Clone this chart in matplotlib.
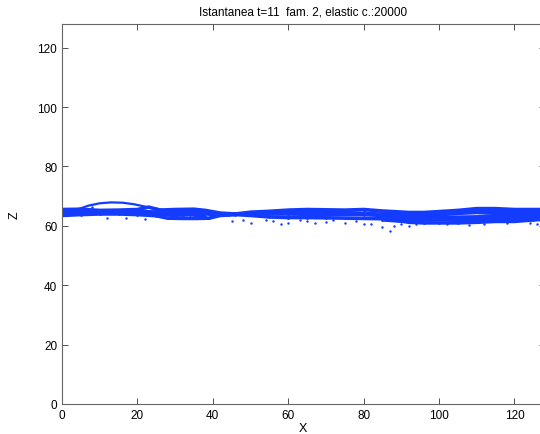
import numpy as np
import matplotlib
matplotlib.use('Agg')
from matplotlib import pyplot as plt

plt.rcParams['font.family'] = ['Liberation Sans', 'DejaVu Sans']

title = 'Istantanea t=11  fam. 2, elastic c.:20000'

# strands of particles (X, Z)
upper_x = [0, 5, 10, 15, 20, 23, 26, 30, 35, 38, 42, 46, 50, 55, 60, 65, 70, 75,
           80, 85, 88, 92, 96, 100, 105, 110, 115, 120, 128]
upper_z = [65.5, 65.6, 65.2, 65.3, 65.5, 66.3, 65.3, 65.5, 65.6, 65.2, 64.3, 64.0,
           64.6, 64.9, 65.3, 65.5, 65.4, 65.3, 65.5, 65.0, 64.8, 64.5, 64.5, 64.8,
           65.2, 65.8, 65.8, 65.5, 65.5]

lower_x = [0, 5, 10, 15, 20, 25, 28, 32, 36, 39, 42, 46, 50, 55, 60, 65, 70, 75,
           80, 85, 88, 92, 96, 100, 105, 110, 115, 120, 125, 128]
lower_z = [63.5, 63.8, 64.0, 64.0, 63.8, 63.4, 62.6, 62.5, 62.5, 62.6, 63.5, 63.8,
           63.5, 63.0, 62.8, 62.8, 62.7, 62.6, 62.5, 62.4, 62.0, 61.2, 61.0, 61.0,
           61.0, 61.2, 61.5, 61.5, 62.0, 62.2]

arch_x = [4, 7, 10, 13, 16, 19, 22, 25, 28]
arch_z = [65.5, 66.8, 67.6, 67.9, 67.8, 67.3, 66.5, 65.8, 65.2]

mid_x = [0, 10, 20, 30, 35, 40, 50, 60, 70, 80, 90, 100, 110, 120, 128]
mid_z = [64.5, 64.7, 64.5, 63.5, 64.5, 63.8, 64.0, 64.0, 63.8, 63.8, 63.2, 62.5,
         63.0, 63.5, 63.8]

mid2_x = [0, 8, 16, 24, 30, 36, 44, 52, 60, 68, 76, 84, 92, 100, 108, 116, 124, 128]
mid2_z = [65.0, 65.0, 64.9, 64.7, 64.6, 64.8, 63.8, 64.2, 64.6, 64.6, 64.4, 64.0,
          63.8, 64.2, 64.8, 64.8, 64.6, 64.7]

right_up_x = [80, 85, 90, 95, 100, 105, 110, 115, 120, 128]
right_up_z = [64.3, 63.5, 63.0, 63.5, 63.8, 64.2, 64.5, 64.2, 63.8, 64.0]

right_lo_x = [85, 90, 95, 100, 105, 110, 115, 120, 128]
right_lo_z = [62.0, 61.6, 62.0, 62.2, 62.0, 61.8, 62.3, 62.5, 62.8]

right_lo2_x = [86, 90, 95, 100, 105, 110, 115, 120, 128]
right_lo2_z = [62.8, 62.5, 62.8, 63.0, 62.9, 62.9, 63.0, 63.2, 63.2]

block_x = [28, 30, 32, 34, 36, 38]
block_z = [64.0, 63.8, 63.6, 63.8, 63.5, 63.2]

strands = [(upper_x, upper_z), (lower_x, lower_z),
           (mid_x, mid_z), (mid2_x, mid2_z), (right_up_x, right_up_z),
           (right_lo_x, right_lo_z), (right_lo2_x, right_lo2_z),
           (block_x, block_z)]

# loose particles below the band
loose_x = [3, 8, 12, 17, 22, 45, 48, 50, 54, 58, 60, 63, 65, 70, 72, 75, 78, 80,
           82, 85, 87, 88, 90, 94, 98, 102, 108, 112, 118, 124, 126, 56, 67, 92, 104]
loose_z = [64.8, 66.5, 62.5, 62.8, 62.3, 61.5, 62.0, 61.0, 62.0, 60.5, 60.8, 61.9,
           61.5, 61.2, 62.0, 60.8, 61.5, 60.6, 60.5, 59.5, 58.4, 60.0, 60.5, 60.5,
           61.8, 60.6, 60.4, 60.7, 60.8, 61.0, 60.5, 61.6, 60.9, 60.0, 61.2]

col = '#143cff'

fig = plt.figure(figsize=(5.4, 4.35), dpi=100)
ax = fig.add_axes([0.1148, 0.069, 0.8937, 0.8736])

for sx, sz in strands:
    ax.plot(sx, sz, color=col, lw=2.6, solid_capstyle='butt')
    ax.plot(sx, sz, '.', color=col, ms=2)
ax.plot(arch_x, arch_z, color=col, lw=1.6)
ax.plot(loose_x, loose_z, '.', color=col, ms=1.5, ls='none')

ax.set_xlim(0, 128)
ax.set_ylim(0, 128)
ax.set_xticks(np.arange(0, 121, 20))
ax.set_yticks(np.arange(0, 121, 20))
ax.tick_params(direction='in', length=4, width=0.6, labelsize=8.5,
               top=True, right=True, colors='#333333', labelcolor='black')
for sp in ax.spines.values():
    sp.set_color('#666666')
    sp.set_linewidth(0.8)

ax.set_title(title, fontsize=8.5, pad=7)
ax.set_xlabel('X', fontsize=9, labelpad=1)
ax.set_ylabel('Z', fontsize=9, labelpad=12)

fig.savefig('out.png', dpi=100)
